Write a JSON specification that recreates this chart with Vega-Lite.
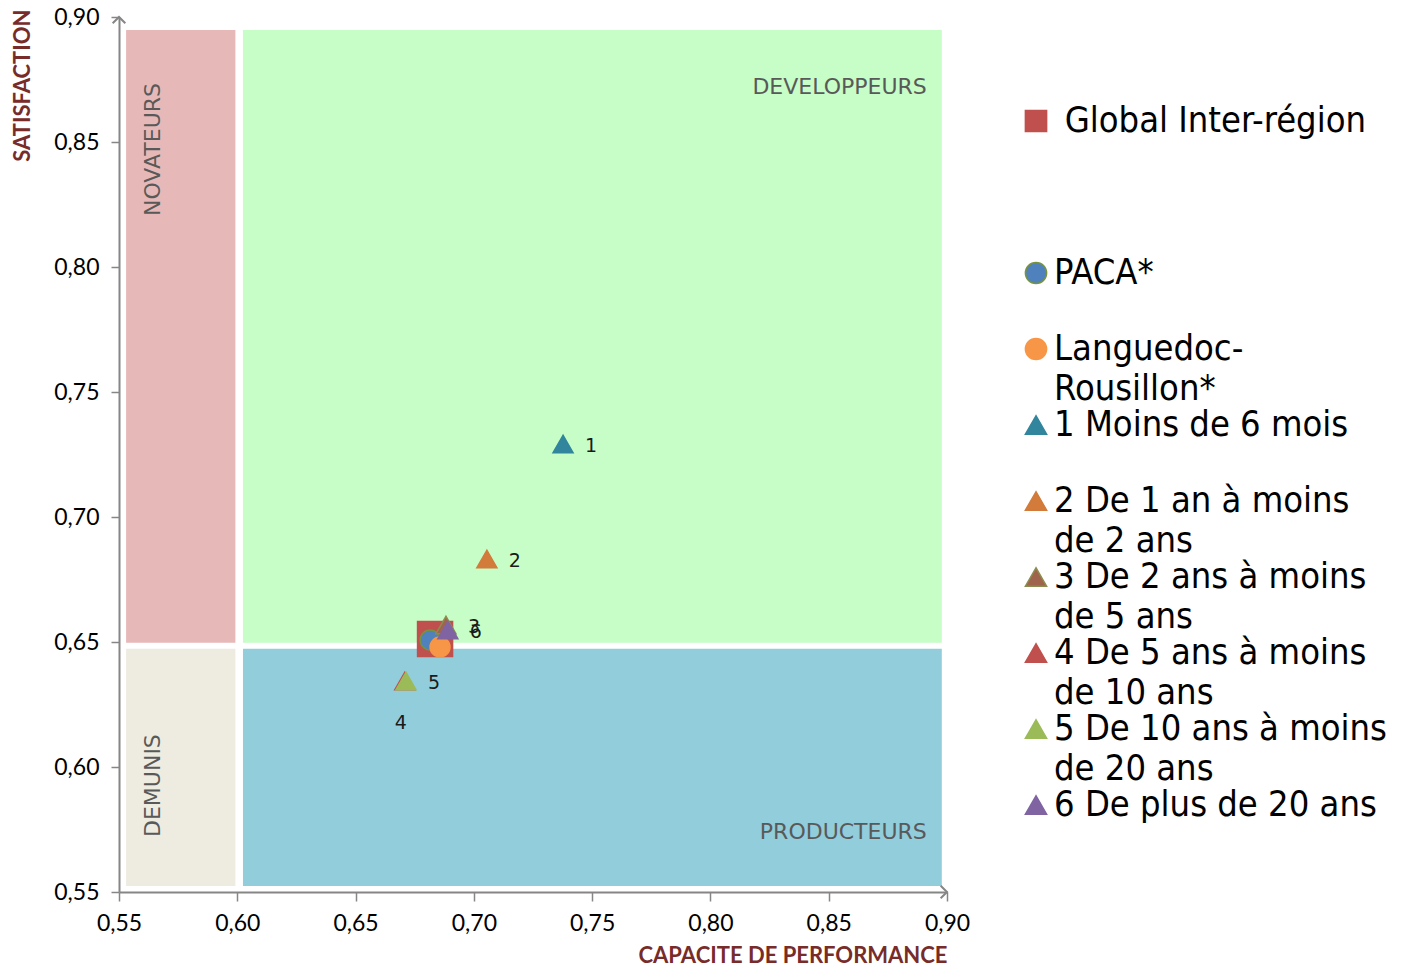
{
  "$schema": "https://vega.github.io/schema/vega-lite/v6.json",
  "width": 828,
  "height": 875,
  "padding": {"left": 11, "top": 6, "right": 0, "bottom": 0},
  "background": "white",
  "datasets": {
    "quadrants": [
      {"quadrant": "NOVATEURS", "cap": 0.553, "cap2": 0.5992, "sat": 0.6497, "sat2": 0.8948},
      {"quadrant": "DEVELOPPEURS", "cap": 0.6024, "cap2": 0.8978, "sat": 0.6497, "sat2": 0.8948},
      {"quadrant": "DEMUNIS", "cap": 0.553, "cap2": 0.5992, "sat": 0.5524, "sat2": 0.6473},
      {"quadrant": "PRODUCTEURS", "cap": 0.6024, "cap2": 0.8978, "sat": 0.5524, "sat2": 0.6473}
    ],
    "points": [
      {"serie": "Global Inter-région", "cap": 0.6836, "sat": 0.6512, "num": null},
      {"serie": "PACA*", "cap": 0.6815, "sat": 0.6508, "num": null},
      {"serie": "Languedoc-Rousillon*", "cap": 0.6857, "sat": 0.648, "num": null},
      {"serie": "1 Moins de 6 mois", "cap": 0.7377, "sat": 0.7292, "num": "1"},
      {"serie": "2 De 1 an à moins de 2 ans", "cap": 0.7055, "sat": 0.6832, "num": "2"},
      {"serie": "3 De 2 ans à moins de 5 ans", "cap": 0.6882, "sat": 0.6568, "num": "3"},
      {"serie": "4 De 5 ans à moins de 10 ans", "cap": 0.6708, "sat": 0.6344, "num": "4"},
      {"serie": "5 De 10 ans à moins de 20 ans", "cap": 0.6713, "sat": 0.6344, "num": "5"},
      {"serie": "6 De plus de 20 ans", "cap": 0.689, "sat": 0.6548, "num": "6"}
    ],
    "arrows": [
      {"end": "y", "cap": 0.55, "sat": 0.9},
      {"end": "x", "cap": 0.9, "sat": 0.55}
    ]
  },
  "encoding": {
    "x": {
      "field": "cap", "type": "quantitative", "title": "CAPACITE DE PERFORMANCE",
      "scale": {"domain": [0.55, 0.9], "nice": false, "zero": false},
      "axis": {
        "values": [0.55, 0.6, 0.65, 0.7, 0.75, 0.8, 0.85, 0.9],
        "labelExpr": "replace(format(datum.value, '.2f'), '.', ',')",
        "grid": false, "domainColor": "#868686", "domainWidth": 2, "tickColor": "#868686", "tickWidth": 1.5, "tickSize": 9,
        "labelFont": "Lato", "labelFontSize": 23, "labelColor": "#000000", "labelPadding": 11, "labelFlush": false,
        "titleFont": "Lato", "titleFontSize": 22, "titleFontWeight": "bold", "titleColor": "#772C2A", "titleAnchor": "end", "titlePadding": 10
      }
    },
    "y": {
      "field": "sat", "type": "quantitative", "title": "SATISFACTION",
      "scale": {"domain": [0.55, 0.9], "nice": false, "zero": false},
      "axis": {
        "values": [0.55, 0.6, 0.65, 0.7, 0.75, 0.8, 0.85, 0.9],
        "labelExpr": "replace(format(datum.value, '.2f'), '.', ',')",
        "grid": false, "domainColor": "#868686", "domainWidth": 2, "tickColor": "#868686", "tickWidth": 1.5, "tickSize": 8,
        "labelFont": "Lato", "labelFontSize": 23, "labelColor": "#000000", "labelPadding": 12, "labelFlush": false,
        "titleFont": "Lato", "titleFontSize": 22, "titleFontWeight": "bold", "titleColor": "#772C2A", "titleAnchor": "end", "titlePadding": 19, "titleY": -8
      }
    }
  },
  "layer": [
    {
      "data": {"name": "quadrants"},
      "mark": {"type": "rect"},
      "encoding": {
        "x2": {"field": "cap2"},
        "y2": {"field": "sat2"},
        "fill": {
          "field": "quadrant", "type": "nominal", "legend": null,
          "scale": {"domain": ["NOVATEURS", "DEVELOPPEURS", "DEMUNIS", "PRODUCTEURS"], "range": ["#E6B9B8", "#C7FDC7", "#EEECE1", "#92CDDC"]}
        }
      }
    },
    {
      "data": {"name": "quadrants"},
      "transform": [{"filter": "datum.quadrant == 'DEVELOPPEURS'"}],
      "mark": {"type": "text", "align": "right", "baseline": "middle", "dx": -15, "dy": 57, "font": "DejaVu Sans", "fontSize": 22, "color": "#595959"},
      "encoding": {
        "x": {"field": "cap2", "type": "quantitative", "title": "CAPACITE DE PERFORMANCE"},
        "y": {"field": "sat2", "type": "quantitative", "title": "SATISFACTION"},
        "text": {"field": "quadrant"}
      }
    },
    {
      "data": {"name": "quadrants"},
      "transform": [{"filter": "datum.quadrant == 'PRODUCTEURS'"}],
      "mark": {"type": "text", "align": "right", "baseline": "middle", "dx": -15, "dy": -54, "font": "DejaVu Sans", "fontSize": 22, "color": "#595959"},
      "encoding": {
        "x": {"field": "cap2", "type": "quantitative", "title": "CAPACITE DE PERFORMANCE"},
        "text": {"field": "quadrant"}
      }
    },
    {
      "data": {"name": "quadrants"},
      "transform": [{"filter": "datum.quadrant == 'NOVATEURS'"}],
      "mark": {"type": "text", "angle": 270, "align": "right", "baseline": "middle", "dx": -53, "dy": 27, "font": "DejaVu Sans", "fontSize": 22, "color": "#595959"},
      "encoding": {
        "y": {"field": "sat2", "type": "quantitative", "title": "SATISFACTION"},
        "text": {"field": "quadrant"}
      }
    },
    {
      "data": {"name": "quadrants"},
      "transform": [{"filter": "datum.quadrant == 'DEMUNIS'"}],
      "mark": {"type": "text", "angle": 270, "align": "left", "baseline": "middle", "dx": 49, "dy": 27, "font": "DejaVu Sans", "fontSize": 22, "color": "#595959"},
      "encoding": {
        "text": {"field": "quadrant"}
      }
    },
    {
      "data": {"name": "points"},
      "transform": [{"filter": "datum.serie == 'Global Inter-région'"}],
      "mark": {"type": "point", "filled": true, "size": 1225, "opacity": 1, "strokeWidth": 1.5},
      "encoding": {
        "color": {"field": "serie", "type": "nominal"},
        "shape": {"field": "serie", "type": "nominal"},
        "stroke": {"field": "serie", "type": "nominal"}
      }
    },
    {
      "data": {"name": "points"},
      "transform": [{"filter": "datum.serie != 'Global Inter-région'"}],
      "mark": {"type": "point", "filled": true, "size": 400, "opacity": 1, "strokeWidth": 1.5},
      "encoding": {
        "color": {
          "field": "serie", "type": "nominal", "title": null,
          "scale": {
            "domain": ["Global Inter-région", " ", "PACA*", "Languedoc-Rousillon*", "1 Moins de 6 mois", "2 De 1 an à moins de 2 ans", "3 De 2 ans à moins de 5 ans", "4 De 5 ans à moins de 10 ans", "5 De 10 ans à moins de 20 ans", "6 De plus de 20 ans"],
            "range": ["#C0504D", "transparent", "#4F81BD", "#F79646", "#31859C", "#D27B3A", "#A0644D", "#C0504D", "#9BBB59", "#8064A2"]
          },
          "legend": {
            "orient": "none", "legendX": 899, "legendY": 86,
            "symbolSize": 450, "symbolStrokeWidth": 1.5,
            "labelFont": "DejaVu Sans Condensed, DejaVu Sans", "labelFontSize": 36, "labelColor": "#000000",
            "labelLimit": 600, "labelOffset": 0, "rowPadding": 0,
            "labelExpr": "datum.label == 'Global Inter-région' ? ['\u200b\u2004Global Inter-région', ''] : datum.label == ' ' ? ['', ''] : datum.label == 'Languedoc-Rousillon*' ? ['Languedoc-', 'Rousillon*'] : datum.label == '2 De 1 an à moins de 2 ans' ? ['2 De 1 an à moins', 'de 2 ans'] : datum.label == '3 De 2 ans à moins de 5 ans' ? ['3 De 2 ans à moins', 'de 5 ans'] : datum.label == '4 De 5 ans à moins de 10 ans' ? ['4 De 5 ans à moins', 'de 10 ans'] : datum.label == '5 De 10 ans à moins de 20 ans' ? ['5 De 10 ans à moins', 'de 20 ans'] : [datum.label, '']"
          }
        },
        "shape": {
          "field": "serie", "type": "nominal", "title": null,
          "scale": {
            "domain": ["Global Inter-région", " ", "PACA*", "Languedoc-Rousillon*", "1 Moins de 6 mois", "2 De 1 an à moins de 2 ans", "3 De 2 ans à moins de 5 ans", "4 De 5 ans à moins de 10 ans", "5 De 10 ans à moins de 20 ans", "6 De plus de 20 ans"],
            "range": ["square", "circle", "circle", "circle", "triangle-up", "triangle-up", "triangle-up", "triangle-up", "triangle-up", "triangle-up"]
          }
        },
        "stroke": {
          "field": "serie", "type": "nominal", "title": null,
          "scale": {
            "domain": ["Global Inter-région", " ", "PACA*", "Languedoc-Rousillon*", "1 Moins de 6 mois", "2 De 1 an à moins de 2 ans", "3 De 2 ans à moins de 5 ans", "4 De 5 ans à moins de 10 ans", "5 De 10 ans à moins de 20 ans", "6 De plus de 20 ans"],
            "range": ["#C0504D", "transparent", "#77933C", "#F79646", "#31859C", "#D27B3A", "#8C8C50", "#C0504D", "#9BBB59", "#8064A2"]
          }
        }
      }
    },
    {
      "data": {"name": "points"},
      "transform": [{"filter": "datum.num != null && datum.num != '4'"}],
      "mark": {"type": "text", "align": "center", "baseline": "middle", "dx": 28, "dy": 2, "font": "DejaVu Sans", "fontSize": 19, "color": "#1a1a1a"},
      "encoding": {"text": {"field": "num"}}
    },
    {
      "data": {"name": "points"},
      "transform": [{"filter": "datum.num == '4'"}],
      "mark": {"type": "text", "align": "center", "baseline": "middle", "dx": -4, "dy": 42, "font": "DejaVu Sans", "fontSize": 19, "color": "#1a1a1a"},
      "encoding": {"text": {"field": "num"}}
    },
    {
      "data": {"name": "arrows"},
      "transform": [{"filter": "datum.end == 'y'"}],
      "mark": {"type": "point", "shape": "M -1 1 L 0 0 L 1 1", "filled": false, "fill": "none", "size": 160, "stroke": "#868686", "strokeWidth": 2, "opacity": 1},
      "encoding": {}
    },
    {
      "data": {"name": "arrows"},
      "transform": [{"filter": "datum.end == 'x'"}],
      "mark": {"type": "point", "shape": "M -1 -1 L 0 0 L -1 1", "filled": false, "fill": "none", "size": 160, "stroke": "#868686", "strokeWidth": 2, "opacity": 1},
      "encoding": {}
    }
  ],
  "config": {
    "view": {"stroke": null},
    "style": {"guide-label": {"lineHeight": 40}}
  }
}
